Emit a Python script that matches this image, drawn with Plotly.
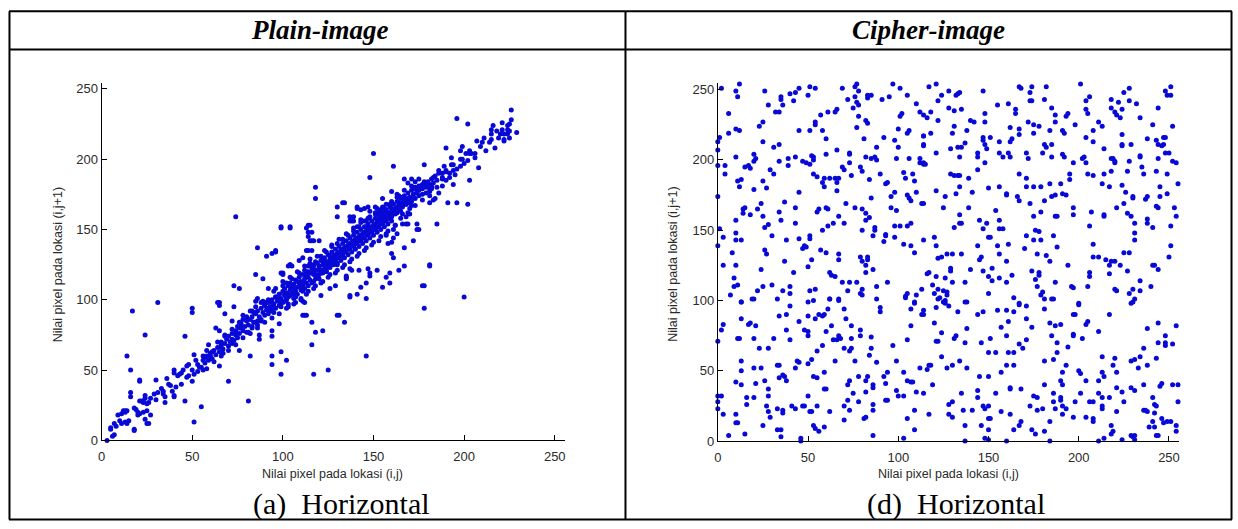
import plotly.graph_objects as go

# ---------------- data (pixel pairs) ----------------
plain_scatter = [
    (3,0),(7,4),(6,3),(5,9),(7,12),(11,12),(13,13),(12,21),(13,21),(15,14),(16,31),(16,34),(18,8),(18,23),
    (20,18),(21,19),(23,20),(21,28),(23,27),(24,32),(26,27),(27,18),(26,12),(21,43),(14,60),(16,50),(17,92),
    (24,75),(31,98),(5,8),(9,18),(11,19),(13,20),(14,21),(14,12),(18,7),(21,42),(20,20),(22,28),(23,28),
    (24,30),(25,26),(24,15),(25,12),(25,21),(30,29),(31,34),(30,43),(34,35),(34,33),(35,27),(36,44),(38,39),
    (39,35),(40,31),(40,32),(40,50),(40,48),(43,47),(44,40),(46,74),(46,28),(47,53),(48,54),(50,94),(50,91),
    (50,50),(51,47),(50,42),(51,13),(51,61),(53,54),(54,52),(55,24),(56,60),(57,59),(56,50),(58,51),(60,60),
    (59,68),(61,63),(63,80),(66,68),(64,98),(65,96),(65,78),(66,66),(67,62),(65,53),(68,90),(68,75),(70,42),
    (72,69),(72,72),(74,75),(72,85),(75,81),(77,80),(76,64),(78,89),(78,86),(81,77),(83,81),(82,60),(81,28),
    (83,92),(84,84),(86,82),(88,85),(87,75),(87,72),(90,96),(91,98),(93,93),(95,95),(94,78),(94,74),(94,60),
    (94,54),(98,83),(99,63),(99,47),(102,57),(112,89),(116,68),(117,47),(118,77),
    (111,99),(112,98),(113,89),(111,89),(116,84),(122,78),(125,50),(131,89),(134,84),(137,102),(146,101),
    (146,60),(178,94),(200,102),
    (65,98),(74,159),(73,110),(76,108),(85,118),(89,115),(86,137),(91,131),(94,133),(96,135),(99,151),
    (104,151),(100,119),(103,124),(104,125),(113,151),(115,153),(114,148),(116,148),(115,142),(117,142),
    (120,142),(113,135),(116,135),(118,180),(118,172),(115,125),(117,125),(120,124),(85,99),(89,99),(90,98),
    (94,98),(96,102),(99,98),(101,104),(103,103),(106,105),
]
plain_upper = [
    (150,204),(161,195),(178,196),(148,187),(167,186),(169,183),(171,186),(173,184),(175,181),(177,182),
    (178,184),(179,180),(181,179),(182,180),(160,177),(163,173),(166,173),(164,169),(166,167),(168,168),
    (170,169),(171,170),(173,172),(175,174),(177,175),(179,176),(181,177),(163,162),(165,163),(166,161),
    (168,159),(170,161),(156,165),(158,162),(159,159),(151,166),(153,162),(154,161),(155,158),(153,154),
    (152,152),(155,172),(157,163),(141,166),(143,164),(145,165),(147,166),(130,166),(133,169),(130,159),
    (137,159),(139,159),(137,156),(139,156),(143,157),(146,156),(141,152),(146,152),(148,151),(150,152),
    (151,151),(166,154),(168,154),(174,154),(175,150),(163,147),(161,144),(160,141),(158,140),(157,147),
    (172,142),(167,137),(160,133),(161,130),(167,124),(164,121),(159,119),(181,125),(178,110),(152,121),
    (157,116),(159,112),(155,109),(146,112),(143,109),(141,104),(137,103),(130,89),(147,122),(142,121),
    (138,121),(135,117),(135,115),(129,110),(126,108),(121,103),(130,125),(124,120),(114,124),(111,130),
    (109,128),(104,125),(105,124),(99,119),(100,118),(99,152),(104,152),(114,145),(114,153),(116,142),
    (114,135),(96,134),(73,95),(86,101),(85,95),(82,92),(92,108),(95,106),(98,104),(102,101),(103,104),
    (226,235),(196,229),(202,225),(216,224),(215,221),(215,218),(215,214),(221,226),(221,221),(224,221),
    (224,218),(225,225),(225,215),(222,213),(211,215),(207,213),(209,209),(217,208),(206,201),(203,204),
    (204,204),(201,204),(199,209),(198,206),(190,208),(193,201),(198,195),(199,200),(202,199),(208,194),
    (189,195),(190,191),(193,196),(194,192),(195,189),(186,192),(183,187),(188,186),(190,185),(188,190),
    (194,182),(186,176),(191,169),(196,169),(202,168),(203,185),(173,180),(182,181),(182,179),(181,174),
    (184,172),(181,169),(183,171),(174,176),(172,173),(169,172),(164,174),(167,171),(170,165),(171,167),
    (160,165),(162,161),(134,169),(138,156),(141,165),(148,163),(152,165),(152,156),(160,159),(155,155),
    (162,153),(169,154),(174,150),(185,154),(181,124),(177,110),(148,119),(148,117),(137,122),(135,116),
    (229,219),(212,206),(219,215),(188,181),(192,187),(185,180),
]
plain_core = [
    (55,52),(56,57),(57,55),(58,60),(59,57),(60,62),(61,58),(62,64),(63,61),(64,66),(65,63),(66,70),(67,65),
    (68,69),(69,72),(70,67),(70,74),(71,70),(72,76),(73,71),(74,78),(75,73),(76,80),(76,76),(77,83),(78,78),
    (79,81),(80,77),(80,85),(81,82),(82,86),(83,80),(83,88),(84,84),(85,90),(86,85),(86,92),(87,88),(88,94),
    (88,86),(89,91),(90,96),(90,89),(91,93),(92,98),(92,90),(93,95),(94,100),(94,92),(95,97),(96,102),
    (96,94),(97,99),(98,104),(98,96),(99,101),(100,106),(100,98),(101,103),(101,108),(102,100),(102,105),
    (103,110),(103,102),(104,107),(104,112),(105,104),(105,109),(106,101),(106,111),(107,106),(107,114),
    (108,104),(108,109),(109,112),(109,116),(110,107),(110,113),(111,110),(111,118),(112,115),(112,108),
    (113,117),(113,112),(114,120),(114,110),(115,114),(115,119),(116,122),(116,112),(117,118),(117,124),
    (118,115),(118,121),(119,126),(119,117),(120,123),(120,118),(121,128),(121,121),(122,125),(122,119),
    (123,130),(123,122),(124,127),(124,121),(125,132),(125,124),(126,129),(126,123),(127,134),(127,126),
    (128,131),(128,125),(129,136),(129,128),(130,133),(130,126),(131,138),(131,130),(132,135),(132,128),
    (133,140),(133,132),(134,137),(134,130),(135,142),(135,134),(136,139),(136,132),(137,144),(137,136),
    (138,141),(138,134),(139,146),(139,138),(140,143),(140,136),(141,148),(141,140),(142,145),(142,138),
    (143,150),(143,142),(144,147),(144,140),(145,152),(145,144),(146,149),(146,142),(147,154),(147,146),
    (148,151),(148,144),(149,156),(149,148),(150,153),(150,146),(151,158),(151,150),(152,155),(152,148),
    (153,160),(153,152),(154,157),(154,150),(155,162),(155,154),(156,159),(156,152),(157,164),(157,156),
    (158,161),(158,154),(159,166),(159,158),(160,163),(160,156),(161,168),(162,165),(163,170),(164,167),
    (165,172),(166,169),(167,174),(168,171),(169,176),(170,173),(171,178),(172,175),(173,179),(174,177),
    (175,178),(176,181),(177,179),(178,183),(179,181),(180,184),(181,182),(182,186),(183,183),(184,188),
    (185,185),(186,190),(188,187),(190,192),(192,190),(194,196),(196,193),(198,200),(200,197),(203,206),
    (206,204),(210,212),(214,212),(218,220),(222,218),(226,228),(225,220),(224,224),(222,214),(220,218),
    (92,94),(95,91),(97,101),(99,95),(101,99),(103,97),(104,103),(106,108),(107,102),(108,113),(110,110),
    (111,106),(112,112),(113,120),(114,116),(116,119),(117,113),(118,118),(119,121),(120,115),(121,119),
    (122,128),(123,126),(124,124),(125,127),(126,131),(127,129),(128,128),(129,132),(130,130),(131,134),
    (132,131),(133,136),(134,134),(135,138),(136,137),(137,140),(138,139),(139,142),(140,140),(141,144),
    (142,142),(143,146),(144,144),(145,148),(146,147),(147,150),(148,148),(149,152),(150,150),(151,154),
    (152,153),(153,157),(154,155),(155,158),(156,156),(157,160),(158,158),(159,162),(160,160),(161,163),
    (162,162),(163,166),(164,164),(165,168),(166,166),(167,170),(168,168),(170,171),(172,173),
    (100,110),(102,112),(105,115),(109,119),(112,121),(115,126),(118,127),(121,131),(124,134),(127,138),
    (130,140),(133,143),(136,146),(139,149),(142,152),(145,156),(148,159),(151,162),(154,164),(157,168),
    (160,170),(103,95),(107,98),(110,101),(114,106),(118,110),(122,113),(126,118),(130,121),(134,125),
    (138,129),(142,133),(146,137),(150,141),(154,145),(158,149),(162,153),
]
plain_band = [
    (96,108),(98,90),(100,113),(102,94),(104,116),(106,97),(108,120),(110,100),(112,124),(113,104),
    (115,129),(117,108),(119,131),(121,112),(123,135),(125,116),(127,139),(129,119),(131,143),(133,123),
    (135,147),(137,127),(139,151),(141,131),(143,155),(145,135),(147,158),(149,139),(151,161),(153,142),
    (155,166),(157,146),(159,168),(161,150),(163,175),(165,158),(167,178),(169,162),(171,181),(173,167),
    (175,186),(177,171),(62,56),(64,70),(66,60),(68,74),(70,64),(72,79),(74,68),(76,84),(78,73),(80,88),
    (82,76),(84,91),(86,80),(88,98),(90,84),(92,100),(94,87),(45,50),(47,45),(52,57),(53,49),(58,64),
    (44,48),(42,46),(37,40),(33,37),(29,33),(27,30),(19,22),(10,14),(8,10),(35,31),(41,38),(48,46),
]

cipher_upper_left = [
    (2,251),(10,249),(11,245),(12,254),(6,233),(26,249),(28,239),(35,243),(35,245),(36,239),(32,234),(34,234),
    (40,247),(42,242),(43,248),(45,251),(51,252),(54,251),(50,246),(61,234),(65,234),(66,236),(69,251),
    (72,243),(75,237),(76,252),(77,254),(78,249),(76,245),(77,241),(78,239),(83,244),(83,246),(85,246),
    (91,243),(97,254),(95,245),(101,251),(105,246),(102,233),(101,231),(110,240),(117,252),
    (1,216),(0,213),(0,207),(6,219),(10,222),(12,221),(25,227),(25,213),(10,202),(23,224),(20,204),(21,201),
    (31,209),(34,211),(45,221),(54,227),(54,225),(51,221),(58,221),(57,232),(60,215),(66,207),(60,204),
    (73,204),(77,223),(82,228),(83,226),(78,231),(81,215),(92,216),(98,214),(88,209),(87,202),(100,222),
    (105,219),(106,221),(100,209),(114,217),(114,211),(106,201),(112,201),
    (0,196),(4,196),(4,190),(11,185),(13,186),(12,181),(15,195),(17,196),(18,194),(20,199),(25,185),(27,180),
    (20,179),(29,193),(31,190),(34,199),(39,201),(39,196),(43,202),(47,199),(49,198),(52,203),(53,202),
    (53,200),(51,197),(53,190),(45,177),(55,188),(58,184),(59,181),(59,187),(62,187),(65,187),(67,187),
    (66,184),(66,178),(69,195),(70,193),(73,205),(73,198),(74,189),(79,195),(82,202),(85,201),(80,192),
    (84,186),(85,173),(88,200),(90,190),(93,183),(94,184),(96,174),(99,201),(98,177),(103,191),(104,187),
    (108,190),(109,185),(112,198),(114,198),(115,197),(110,177),(105,175),(106,173),(107,171),
    (0,174),(1,151),(3,145),(0,139),(10,157),(10,148),(10,143),(13,143),(14,165),(15,166),(14,162),(18,161),
    (22,165),(24,169),(25,160),(26,152),(28,154),(26,136),(30,146),(34,163),(35,157),(37,170),(38,143),
    (43,166),(43,155),(45,144),(48,139),(51,146),(51,144),(55,163),(56,165),(60,166),(61,165),(58,150),
    (61,153),(64,155),(67,160),(70,155),(71,169),(76,166),(80,165),(82,162),(80,150),(82,157),(84,159),
    (87,152),(87,150),(86,146),(92,142),(93,146),(93,147),(96,166),(99,164),(98,153),(98,145),(101,153),
    (105,153),(107,155),(103,140),(107,139),(109,134),(113,169),(114,143),
    (3,125),(8,134),(10,125),(9,116),(9,110),(11,111),(7,104),(13,99),(19,101),(22,107),(24,122),(25,110),
    (27,133),(30,111),(33,101),(36,107),(37,128),(40,110),(42,120),(40,105),(47,137),(49,138),(50,124),
    (52,129),(51,107),(54,108),(53,100),(57,136),(60,134),(62,101),(62,120),(63,118),(65,117),(67,129),
    (67,133),(67,100),(69,113),(72,107),(73,113),(77,113),(79,131),(80,128),(80,108),(79,105),(80,104),
    (82,125),(83,131),(83,129),(82,120),(86,122),(88,110),(88,101),(94,113),(104,103),(105,105),(109,99),
    (110,104),(113,108),(117,120),
]
cipher_upper_right = [
    (121,254),(122,242),(124,246),(128,249),(132,246),(133,247),(134,248),(131,235),(135,236),(128,237),
    (147,249),(155,239),(161,240),(167,252),(168,251),(174,252),(173,248),(182,252),(173,242),(174,242),
    (165,236),(165,233),(181,243),(185,237),(201,254),(204,242),(206,245),(204,236),(205,233),(194,233),
    (193,231),(187,232),(219,255),(218,243),(222,241),(225,248),(228,251),(228,242),(232,240),(218,237),
    (220,234),(221,232),(224,236),(234,230),(244,237),(248,249),(249,246),(251,246),(251,252),(223,230),
    (112,234),(114,232),(116,230),(118,234),(114,217),(114,210),(118,219),(121,205),(122,228),(130,219),
    (131,224),(129,208),(133,209),(135,209),(137,212),(138,221),(140,228),(142,227),(134,202),(147,216),
    (147,214),(151,216),(148,233),(148,227),(148,211),(149,208),(144,205),(144,202),(148,198),(156,213),
    (156,205),(158,202),(162,223),(162,213),(163,215),(167,222),(167,218),(161,205),(162,202),(171,205),
    (172,201),(172,227),(175,225),(175,219),(178,224),(181,211),(182,209),(180,205),(184,221),(185,211),
    (185,202),(187,227),(191,221),(192,219),(191,204),(192,202),(197,198),(198,225),(204,216),(208,213),
    (208,221),(211,227),(213,224),(214,208),(202,201),(203,202),(204,198),(224,218),(224,211),(224,210),
    (229,211),(234,203),(234,202),(228,199),(238,215),(241,225),(243,214),(244,211),(246,210),(247,216),
    (248,216),(247,211),(248,205),(250,205),(244,201),(252,224),(252,199),(254,198),(219,201),(220,199),
    (114,197),(114,169),(121,178),(126,174),(129,190),(131,189),(133,189),(134,189),(134,181),(132,176),
    (139,187),(141,177),(144,193),(150,180),(156,181),(160,176),(160,175),(167,190),(171,187),(171,181),
    (166,174),(167,171),(173,169),(175,181),(179,181),(181,171),(184,183),(185,174),(187,175),(190,183),
    (191,176),(193,175),(195,190),(195,186),(205,190),(208,189),(214,190),(213,183),(217,181),(218,201),
    (220,198),(218,192),(224,182),(227,192),(226,177),(230,173),(230,174),(221,166),(225,169),(235,195),
    (236,190),(237,172),(238,174),(243,192),(245,181),(245,174),(249,176),(249,190),(255,183),(243,167),
    (244,166),
    (125,166),(134,161),(139,166),(134,155),(135,155),(131,152),(145,157),(147,151),(149,155),(154,164),
    (156,157),(156,151),(158,151),(150,145),(151,145),(155,139),(161,140),(171,146),(175,160),(176,150),
    (178,149),(175,143),(179,143),(179,163),(187,160),(188,160),(186,146),(197,166),(197,161),(207,163),
    (206,153),(214,161),(214,160),(208,140),(227,162),(229,160),(231,155),(231,148),(231,143),(238,158),
    (238,155),(241,152),(251,153),(253,166),(254,160),(251,139),
    (120,145),(121,139),(122,130),(124,131),(127,133),(130,133),(135,133),(129,123),(129,121),(140,122),
    (137,113),(130,113),(116,119),(121,117),(126,116),(119,111),(122,108),(125,107),(127,106),(127,104),
    (126,100),(120,105),(123,102),(138,99),(144,139),(146,131),(145,129),(147,121),(150,117),(152,123),
    (152,114),(156,133),(156,116),(160,128),(160,113),(163,118),(150,105),(164,102),(167,97),(170,137),
    (174,121),(176,115),(177,110),(178,120),(178,118),(177,133),(182,132),(179,104),(180,106),(184,128),
    (185,101),(187,113),(188,138),(194,125),(196,110),(197,109),(200,97),(206,120),(206,117),(205,110),
    (208,131),(211,131),(215,129),(217,125),(218,128),(220,128),(220,108),(221,107),(223,125),(217,119),
    (225,134),(228,134),(227,121),(228,105),(230,108),(229,98),(234,107),(234,114),(240,110),(241,125),
    (242,125),(244,122),(250,131),
]
cipher_lower_left = [
    (0,32),(0,28),(0,23),(2,32),(2,79),(3,83),(0,71),(6,4),(3,19),(10,42),(10,19),(10,13),(11,13),(11,73),
    (12,73),(13,99),(13,87),(13,57),(13,50),(13,40),(15,5),(16,26),(16,31),(17,83),(18,84),(20,31),(20,52),
    (20,73),(20,101),(21,82),(21,41),(23,66),(24,52),(26,43),(25,11),(27,25),(28,66),(28,37),(28,32),(28,21),
    (29,17),(31,73),(33,54),(34,54),(33,23),(33,8),(35,8),(34,45),(36,47),(37,46),(38,43),(36,22),(36,20),
    (35,3),(34,89),(38,90),(38,79),(40,96),(40,72),(41,25),(43,23),(43,52),(44,57),(45,56),(45,85),(46,2),
    (46,0),(47,25),(48,25),(48,79),(50,78),(50,75),(50,89),(50,99),(50,55),(50,32),(51,21),(52,21),(52,58),
    (53,46),(55,45),(53,11),(54,9),(54,87),(55,25),(55,64),(56,7),(56,90),(58,89),(59,90),(58,68),(59,37),
    (60,37),(59,10),(59,49),(60,78),(61,94),(62,101),(62,21),(63,82),(64,72),(66,72),(65,57),(67,101),
    (67,75),(68,73),(70,66),(70,25),(70,15),(70,94),(71,87),(72,40),(73,43),(72,29),(73,22),(73,64),(74,66),
    (74,82),(74,73),(75,34),(76,57),(78,46),(78,28),(79,79),(79,75),(82,43),(83,46),(82,35),(81,16),(82,17),
    (84,61),(85,66),(85,74),(86,38),(86,40),(86,26),(86,22),(86,4),(88,56),(90,92),(90,95),(92,46),(93,29),
    (94,29),(93,41),(94,49),(97,68),(99,36),(99,57),(100,32),(103,32),(103,49),(103,2),(104,102),(105,72),
    (105,43),(107,42),(108,42),(105,16),(107,82),(107,94),(109,98),(109,8),(109,22),(110,35),(113,90),
    (114,93),(114,34),(116,51),(117,19),(118,54),
]
cipher_lower_right = [
    (114,90),(120,84),(122,101),(121,95),(125,99),(126,98),(128,96),(133,92),(137,99),(144,90),(147,92),
    (155,93),(160,93),(164,92),(161,85),(157,81),(167,98),(171,96),(171,87),(174,81),(181,101),(181,94),
    (186,101),(184,84),(187,82),(190,83),(200,98),(197,90),(198,90),(204,83),(205,85),(211,78),(217,90),
    (230,99),(231,101),(238,80),(244,84),(248,75),(248,70),(248,68),(254,82),(252,69),
    (112,52),(117,54),(119,40),(121,71),(122,71),(124,77),(124,60),(127,52),(130,54),(131,73),(132,75),
    (134,57),(138,80),(137,70),(138,52),(128,26),(130,28),(128,19),(130,17),(135,34),(136,22),(137,11),
    (137,0),(141,22),(144,36),(144,31),(145,46),(146,70),(146,11),(147,25),(148,23),(150,25),(150,46),
    (150,63),(151,73),(150,16),(151,16),(148,2),(150,1),(150,8),(154,63),(154,34),(157,49),(157,21),
    (160,54),(164,54),(160,75),(161,63),(164,63),(162,38),(162,37),(162,19),(160,0),(164,8),(167,11),
    (168,14),(167,69),(169,66),(168,37),(171,72),(173,25),(175,32),(177,31),(174,8),(176,5),(177,22),
    (180,23),(181,57),(181,40),(181,7),(184,14),(184,0),(185,75),(186,58),(186,34),(186,28),(187,23),
    (188,63),(188,70),(190,31),(190,29),(190,43),(191,40),(191,49),(191,25),(193,23),(191,19),(193,54),
    (194,67),(197,76),(197,75),(197,17),(198,28),(200,50),(201,48),(201,34),(202,73),(204,43),(204,17),
    (206,28),(208,16),(208,14),(208,28),(211,43),(211,34),(213,23),(213,25),(211,0),(213,49),(214,46),
    (213,60),(213,31),(217,31),(214,2),(218,11),(218,5),(219,7),(219,54),(220,59),(221,49),(221,38),
    (221,21),(224,35),(225,28),(224,1),(229,57),(231,58),(229,38),(231,36),(229,4),(230,3),(231,4),(231,1),
    (233,52),(234,60),(236,40),(236,22),(237,22),(236,66),(238,54),(238,21),(239,10),(241,31),(241,14),
    (242,26),(243,25),(242,20),(242,10),(243,4),(244,4),(243,59),(244,70),(245,39),(246,41),(246,16),
    (247,13),(249,14),(251,14),(252,40),(254,11),(254,7),(255,40),(255,28),
]

tick_vals = [0, 50, 100, 150, 200, 250]
header_texts = ["Plain-image", "Cipher-image"]
caption_texts = ["(a)  Horizontal", "(d)  Horizontal"]
x_title = "Nilai pixel pada lokasi (i,j)"
y_title = "Nilai pixel pada lokasi (i,j+1)"

# ---------------- figure ----------------
W, H = 1238, 529
def fx(p):
    return p / W
def fy(p):
    return 1 - p / H

plain = plain_scatter + plain_upper + plain_core + plain_band
cipher = cipher_upper_left + cipher_upper_right + cipher_lower_left + cipher_lower_right

dot = dict(size=5, color="rgb(8,8,215)", line=dict(width=0))
fig = go.Figure()
fig.add_trace(go.Scatter(x=[p[0] for p in plain], y=[p[1] for p in plain], mode="markers",
                         marker=dot, xaxis="x", yaxis="y", cliponaxis=False, hoverinfo="skip"))
fig.add_trace(go.Scatter(x=[p[0] for p in cipher], y=[p[1] for p in cipher], mode="markers",
                         marker=dot, xaxis="x2", yaxis="y2", cliponaxis=False, hoverinfo="skip"))

tickfont = dict(family="Liberation Sans, Arial, sans-serif", size=13, color="#2a2a2a")
axis_common = dict(tickvals=tick_vals, ticks="inside", ticklen=5, tickwidth=1, tickcolor="black",
                   showline=True, linecolor="black", linewidth=1, showgrid=False, zeroline=False,
                   tickfont=tickfont, mirror=False, fixedrange=True)

fig.update_layout(
    width=W, height=H, margin=dict(l=0, r=0, t=0, b=0),
    paper_bgcolor="white", plot_bgcolor="white", showlegend=False,
    xaxis=dict(domain=[fx(98), fx(563)], range=[0, 255.5], anchor="y", ticklabelstandoff=4, **axis_common),
    yaxis=dict(domain=[fy(447), fy(83)], range=[0, 254.5], anchor="x", **axis_common),
    xaxis2=dict(domain=[fx(716.7), fx(1179.3)], range=[0, 255.3], anchor="y2", ticklabelstandoff=4, **axis_common),
    yaxis2=dict(domain=[fy(447.7), fy(83.3)], range=[0, 254.8], anchor="x2", **axis_common),
)

# table borders
border = dict(color="black", width=2)
shapes = []
for yy in (10.5, 49.3, 527.5):
    shapes.append(dict(type="line", xref="paper", yref="paper", x0=fx(5), x1=fx(1233),
                       y0=fy(yy), y1=fy(yy), line=border))
for xx in (5.5, 624, 1232.5):
    shapes.append(dict(type="line", xref="paper", yref="paper", x0=fx(xx), x1=fx(xx),
                       y0=fy(10.5), y1=fy(527.5), line=border))
fig.update_layout(shapes=shapes)

serif = "Liberation Serif, Times New Roman, serif"
sans = "Liberation Sans, Arial, sans-serif"
ann = []
for txt, cx in zip(header_texts, (317, 928)):
    ann.append(dict(text="<b><i>" + txt + "</i></b>", x=fx(cx), y=fy(30), xref="paper", yref="paper",
                    showarrow=False, xanchor="center", yanchor="middle",
                    font=dict(family=serif, size=27, color="black")))
for txt, cx in zip(caption_texts, (339, 956)):
    ann.append(dict(text=txt, x=fx(cx), y=fy(512), xref="paper", yref="paper",
                    showarrow=False, xanchor="center", yanchor="middle",
                    font=dict(family=serif, size=30, color="black")))
for cx in (330, 948):
    ann.append(dict(text=x_title, x=fx(cx), y=fy(481), xref="paper", yref="paper", showarrow=False,
                    xanchor="center", yanchor="middle", font=dict(family=sans, size=12.5, color="#2a2a2a")))
for cx in (55, 672):
    ann.append(dict(text=y_title, x=fx(cx), y=fy(268), xref="paper", yref="paper", showarrow=False,
                    textangle=-90, xanchor="center", yanchor="middle",
                    font=dict(family=sans, size=12.5, color="#2a2a2a")))
fig.update_layout(annotations=ann)

fig.write_html("out.html")
